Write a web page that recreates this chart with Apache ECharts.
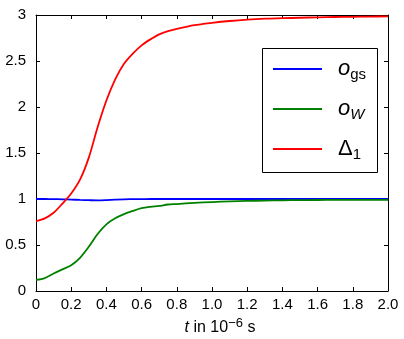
<!DOCTYPE html>
<html>
<head>
<meta charset="utf-8">
<script src="https://cdn.jsdelivr.net/npm/echarts@6/dist/echarts.min.js"></script>
<style>
  html, body { margin: 0; padding: 0; background: #fff; }
  #chart { width: 404px; height: 339px; }
</style>
</head>
<body>
<div id="chart"></div>
<script>
// Time axis (units of 10^-6 s)
const times = [0, 0.05, 0.1, 0.15, 0.2, 0.25, 0.3, 0.35, 0.4, 0.45, 0.5, 0.55, 0.6, 0.65, 0.7,
  0.75, 0.8, 0.9, 1.0, 1.1, 1.2, 1.3, 1.4, 1.5, 1.6, 1.7, 1.8, 1.9, 2.0];

// o_gs
const oGs = [1.0, 1.0, 0.999, 0.997, 0.994, 0.99, 0.987, 0.985, 0.988, 0.993, 0.997, 0.998, 0.999, 1.0, 1.0,
  1.0, 1.0, 1.0, 1.0, 1.0, 1.0, 1.0, 1.0, 1.0, 1.0, 1.0, 1.0, 1.0, 1.0];

// o_W
const oW = [0.12, 0.14, 0.19, 0.235, 0.28, 0.36, 0.48, 0.62, 0.725, 0.79, 0.835, 0.87, 0.90, 0.915, 0.925,
  0.94, 0.945, 0.958, 0.967, 0.974, 0.979, 0.983, 0.986, 0.988, 0.989, 0.99, 0.99, 0.99, 0.99];

// Delta_1
const delta1 = [0.76, 0.79, 0.85, 0.95, 1.06, 1.21, 1.45, 1.78, 2.07, 2.30, 2.47, 2.58, 2.67, 2.735, 2.79,
  2.825, 2.85, 2.89, 2.915, 2.935, 2.95, 2.96, 2.965, 2.97, 2.975, 2.978, 2.98, 2.983, 2.985];

const xTickLabels = ['0', '0.2', '0.4', '0.6', '0.8', '1.0', '1.2', '1.4', '1.6', '1.8', '2.0'];
const yTickLabels = ['0', '0.5', '1', '1.5', '2', '2.5', '3'];

const FONT = 'Liberation Sans, Arial, sans-serif';

const pairs = (ys) => times.map((t, i) => [t, ys[i]]);

const chart = echarts.init(document.getElementById('chart'), null, { renderer: 'canvas' });

const axisLine = { show: true, onZero: false, lineStyle: { color: '#000', width: 1 } };
const tick = { show: true, inside: true, length: 4, lineStyle: { color: '#000', width: 1 } };

const lineSeries = (name, ys, color) => ({
  name: name,
  type: 'line',
  data: pairs(ys),
  symbol: 'none',
  smooth: 0.3,
  lineStyle: { color: color, width: 1.8 },
  itemStyle: { color: color },
  z: 3
});

chart.setOption({
  animation: false,
  backgroundColor: '#fff',
  grid: { left: 36, right: 16, top: 15, bottom: 48, containLabel: false, outerBoundsMode: 'none' },
  xAxis: [
    {
      type: 'value', position: 'bottom', min: 0, max: 2, interval: 0.2,
      axisLine: axisLine, axisTick: tick, splitLine: { show: false },
      axisLabel: {
        color: '#000', fontSize: 15, fontFamily: FONT, margin: 6,
        formatter: (v) => xTickLabels[Math.round(v / 0.2)]
      },
      name: '{it|t} in 10{sup|\u22126} s',
      nameLocation: 'middle',
      nameGap: 26,
      nameTextStyle: {
        color: '#000', fontSize: 16, fontFamily: FONT, padding: [0, 0, 0, 16],
        rich: {
          it: { fontStyle: 'italic', fontSize: 16, fontFamily: FONT, color: '#000', lineHeight: 22 },
          sup: { fontSize: 13, fontFamily: FONT, color: '#000', verticalAlign: 'top', lineHeight: 22 }
        },
        lineHeight: 22
      }
    },
    {
      type: 'value', position: 'top', min: 0, max: 2, interval: 0.2,
      axisLine: axisLine, axisTick: tick, splitLine: { show: false },
      axisLabel: { show: false }
    }
  ],
  yAxis: [
    {
      type: 'value', position: 'left', min: 0, max: 3, interval: 0.5,
      axisLine: axisLine, axisTick: tick, splitLine: { show: false },
      axisLabel: {
        color: '#000', fontSize: 15, fontFamily: FONT, margin: 10,
        formatter: (v) => yTickLabels[Math.round(v / 0.5)]
      }
    },
    {
      type: 'value', position: 'right', min: 0, max: 3, interval: 0.5,
      axisLine: axisLine, axisTick: tick, splitLine: { show: false },
      axisLabel: { show: false }
    }
  ],
  legend: {
    orient: 'vertical',
    left: 273,
    top: 58,
    padding: 0,
    icon: 'rect',
    itemWidth: 49,
    itemHeight: 2,
    itemGap: 16,
    z: 60,
    data: ['ogs', 'oW', 'd1'],
    formatter: (name) => {
      if (name === 'ogs') return '{m|o}{s|gs}';
      if (name === 'oW') return '{m|o}{si|W}';
      return '{d|\u0394}{s|1}';
    },
    textStyle: {
      color: '#000',
      fontFamily: FONT,
      rich: {
        m: { fontSize: 22, fontStyle: 'italic', fontFamily: FONT, color: '#000', lineHeight: 26, padding: [0, 0, 0, 11] },
        d: { fontSize: 22, fontFamily: FONT, color: '#000', lineHeight: 26, padding: [0, 0, 0, 11] },
        s: { fontSize: 15, fontFamily: FONT, color: '#000', lineHeight: 26, verticalAlign: 'bottom' },
        si: { fontSize: 15, fontStyle: 'italic', fontFamily: FONT, color: '#000', lineHeight: 26, verticalAlign: 'bottom' }
      }
    }
  },
  graphic: [
    {
      type: 'rect',
      shape: { x: 262.5, y: 48.5, width: 115, height: 124 },
      style: { fill: '#fff', stroke: '#000', lineWidth: 1 },
      z: 50
    }
  ],
  series: [
    lineSeries('ogs', oGs, '#0000ff'),
    lineSeries('oW', oW, '#008000'),
    lineSeries('d1', delta1, '#ff0000')
  ]
});
</script>
</body>
</html>
